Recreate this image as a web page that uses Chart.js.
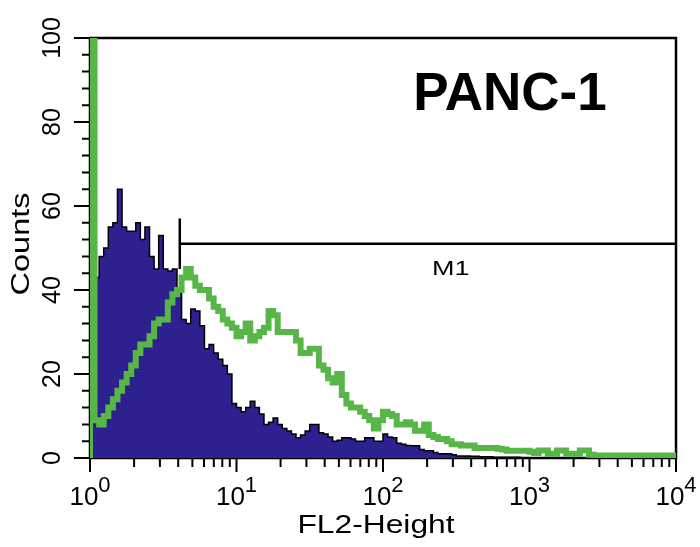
<!DOCTYPE html>
<html>
<head>
<meta charset="utf-8">
<script src="https://cdn.jsdelivr.net/npm/chart.js@4.4.1/dist/chart.umd.min.js"></script>
<style>
  html, body { margin: 0; padding: 0; background: #fff; }
  #wrap { width: 700px; height: 547px; }
</style>
</head>
<body>
<div id="wrap"><canvas id="histChart" width="700" height="547"></canvas></div>
<script>
// FL2 channels, 32 per decade over 4 decades (10^0 .. 10^4)
const channelsPerDecade = 32;
const decades = [0, 1, 2, 3, 4];
const yTicks = [0, 20, 40, 60, 80, 100];

// control (filled) histogram, counts per channel
const purpleCounts = [
  43, 43, 48, 50, 55, 56, 64, 55, 54, 54,
  56, 52, 55, 48, 45, 53, 45, 44.5, 45, 40,
  33, 32, 35.5, 35, 31.5, 26, 27, 25, 23.5, 22,
  20, 13, 12, 11, 12, 13.5, 12, 10.5, 8, 8.5,
  9.5, 8, 7, 6.4, 5.7, 4.8, 5.5, 6.4, 8, 8,
  6, 5.7, 5, 4, 4.2, 4.8, 4.8, 4.5, 4, 4,
  4.8, 4.8, 4, 4, 5.7, 5, 4.8, 3.5, 3.3, 3,
  2.9, 2.9, 2, 1.7, 1.7, 1.3, 1, 1, 1, 0.8,
  0.5, 0.5, 0.5, 0.4, 0.4, 0.3, 0.3, 0.3, 0.2, 0.2,
  0.2, 0.2, 0.2, 0.2, 0, 0, 0, 0, 0, 0,
  0, 0, 0, 0, 0, 0, 0, 0, 0, 0,
  0, 0, 0, 0, 0, 0, 0, 0, 0, 0,
  0, 0, 0, 0, 0, 0, 0, 0
];

// stained sample (green line), counts per channel
const greenCounts = [
  100, 9, 8, 10, 12, 14, 16, 18, 20, 22,
  25, 27, 27, 29, 32, 33, 33, 37, 39, 40,
  43, 45, 43, 41, 40, 40, 38, 36, 35, 33,
  32, 31, 29, 30, 32, 28, 29, 30, 31, 35,
  34, 30, 30, 30, 30, 28, 25, 25, 26, 26,
  22, 21, 19, 18, 20, 15, 13, 12, 12, 11,
  10, 9, 7, 9, 11, 10.5, 10, 8, 8, 8.5,
  8, 6.5, 6.5, 8, 5.5, 5, 4.5, 4.5, 4, 3.3,
  3.3, 3, 3, 3, 2.4, 2.4, 2.4, 2.4, 2.4, 2.2,
  2, 1.7, 1.7, 1.7, 1.7, 1.7, 1.5, 1.2, 1.8, 1.8,
  1, 1, 1.8, 1.8, 1, 1, 1, 1.8, 1.8, 0.8,
  0.6, 0.6, 0.6, 0.6, 0.6, 0.6, 0.6, 0.6, 0.6, 0.6,
  0.6, 0.6, 0.6, 0.6, 0.6, 0.6, 0.6, 0.6
];

// M1 gate
const markerLabel = 'M1';
const markerRange = [4.1, 10000];
const markerLevel = 51;
const markerLabelAt = [290, 45];

const titleText = 'PANC-1';
const xTitle = 'FL2-Height';
const yTitle = 'Counts';

const FONT = "'Liberation Sans', Arial, sans-serif";

function toPoints(counts) {
    const pts = [{ x: 1, y: 0 }];
    counts.forEach((c, i) => {
        pts.push({ x: Math.pow(10, i / channelsPerDecade), y: c });
    });
    pts.push({ x: Math.pow(10, counts.length / channelsPerDecade), y: counts[counts.length - 1] });
    return pts;
}

// text stretched along its own direction (the original labels are wide)
function wideText(ctx, text, x, y, angle, stretch) {
    ctx.save();
    ctx.translate(x, y);
    ctx.rotate(angle);
    ctx.scale(stretch, 1);
    ctx.fillText(text, 0, 0);
    ctx.restore();
}

const flowPlugin = {
    id: 'flowPlugin',
    beforeDatasetsDraw(chart) {
        const { ctx, chartArea: a } = chart;
        ctx.save();
        ctx.strokeStyle = '#000';
        ctx.lineWidth = 2.5;
        ctx.strokeRect(a.left, a.top, a.right - a.left, a.bottom - a.top);
        ctx.restore();
    },
    afterDatasetsDraw(chart) {
        const { ctx, chartArea: a, scales } = chart;
        const xs = scales.x, ys = scales.y;
        ctx.save();
        ctx.strokeStyle = '#000';
        ctx.fillStyle = '#000';

        // M1 marker
        const my = ys.getPixelForValue(markerLevel);
        const mx0 = xs.getPixelForValue(markerRange[0]);
        const mx1 = xs.getPixelForValue(markerRange[1]);
        ctx.lineWidth = 2.5;
        ctx.beginPath();
        ctx.moveTo(mx0, my); ctx.lineTo(mx1, my);
        ctx.moveTo(mx0, ys.getPixelForValue(markerLevel + 6)); ctx.lineTo(mx0, ys.getPixelForValue(markerLevel - 6));
        ctx.stroke();
        ctx.font = '20px ' + FONT;
        ctx.textAlign = 'center';
        ctx.textBaseline = 'middle';
        wideText(ctx, markerLabel, xs.getPixelForValue(markerLabelAt[0]), ys.getPixelForValue(markerLabelAt[1]), 0, 1.35);

        // y ticks, minor every 4
        ctx.lineWidth = 2;
        ctx.beginPath();
        for (let v = 0; v <= 100; v += 4) {
            const py = ys.getPixelForValue(v);
            const len = v % 20 === 0 ? 16 : 8;
            ctx.moveTo(a.left - len, py);
            ctx.lineTo(a.left, py);
        }
        // x ticks, log minor
        decades.forEach(d => {
            for (let m = 1; m <= 9; m++) {
                if (d === 4 && m > 1) break;
                const px = xs.getPixelForValue(m * Math.pow(10, d));
                const len = m === 1 ? 14 : 9;
                ctx.moveTo(px, a.bottom);
                ctx.lineTo(px, a.bottom + len);
            }
        });
        ctx.stroke();

        // y labels (rotated)
        ctx.font = '25px ' + FONT;
        yTicks.forEach(v => {
            ctx.save();
            ctx.translate(53, ys.getPixelForValue(v));
            ctx.rotate(-Math.PI / 2);
            ctx.textAlign = 'center';
            ctx.textBaseline = 'middle';
            ctx.fillText(String(v), 0, 0);
            ctx.restore();
        });

        // x labels 10^n
        ctx.textAlign = 'left';
        ctx.textBaseline = 'alphabetic';
        decades.forEach(d => {
            const px = xs.getPixelForValue(Math.pow(10, d));
            ctx.font = '26px ' + FONT;
            const w1 = ctx.measureText('10').width;
            ctx.font = '22px ' + FONT;
            const w2 = ctx.measureText(String(d)).width;
            const x0 = px - (w1 + w2) / 2;
            ctx.font = '26px ' + FONT;
            ctx.fillText('10', x0, 505);
            ctx.font = '22px ' + FONT;
            ctx.fillText(String(d), x0 + w1, 492);
        });

        // axis titles
        ctx.font = '25px ' + FONT;
        ctx.textAlign = 'center';
        ctx.textBaseline = 'alphabetic';
        wideText(ctx, xTitle, 376, 533, 0, 1.27);
        wideText(ctx, yTitle, 29, 244, -Math.PI / 2, 1.3);

        // panel title
        ctx.font = 'bold 53px ' + FONT;
        ctx.textAlign = 'center';
        ctx.fillText(titleText, 510, 110);
        ctx.restore();
    }
};

const ctx = document.getElementById('histChart').getContext('2d');
const histChart = new Chart(ctx, {
    type: 'line',
    data: {
        datasets: [
            {
                label: 'stained',
                data: toPoints(greenCounts),
                stepped: 'before',
                borderColor: '#58b648',
                borderWidth: 6,
                pointRadius: 0,
                fill: false,
                order: 0
            },
            {
                label: 'control',
                data: toPoints(purpleCounts),
                stepped: 'before',
                borderColor: '#000',
                borderWidth: 1.5,
                backgroundColor: '#2d2190',
                pointRadius: 0,
                fill: 'origin',
                order: 1
            }
        ]
    },
    options: {
        responsive: false,
        animation: false,
        layout: { padding: { left: 90, right: 24, top: 38, bottom: 89 } },
        plugins: { legend: { display: false }, tooltip: { enabled: false } },
        scales: {
            x: { type: 'logarithmic', min: 1, max: 10000, display: false },
            y: { type: 'linear', min: 0, max: 100, display: false }
        }
    },
    plugins: [flowPlugin]
});
</script>
</body>
</html>
